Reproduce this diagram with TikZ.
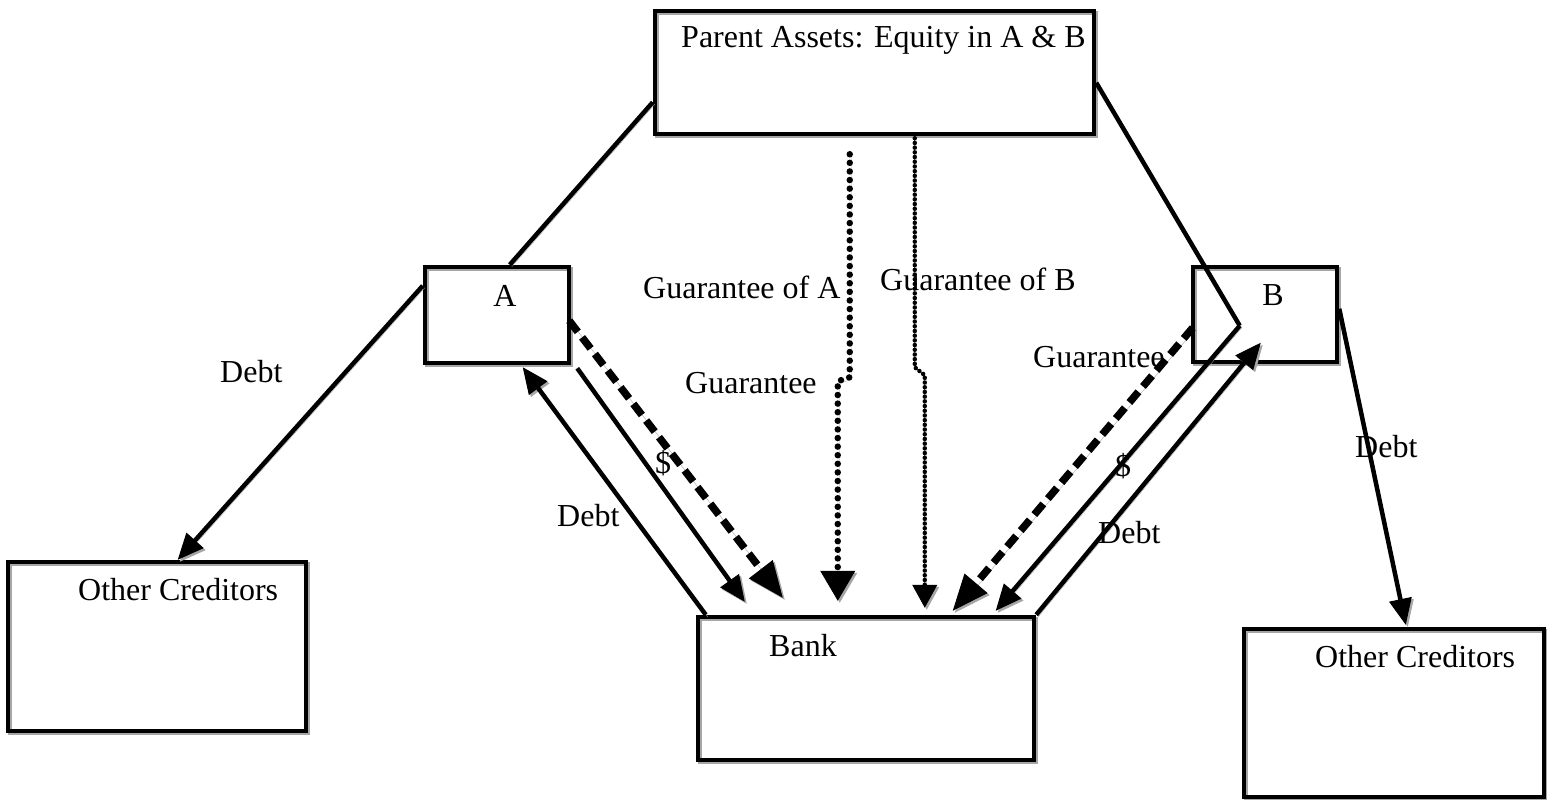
\documentclass[tikz,border=0pt]{standalone}
\usepackage{fontspec}
\setmainfont{Liberation Serif}
\usetikzlibrary{arrows.meta,calc}
\begin{document}
\begin{tikzpicture}[x=1pt,y=-1pt,
  shad/.style={preaction={draw=black!35, transform canvas={shift={(2pt,-2pt)}}}},
  box/.style={draw, line width=4.5pt, rectangle, inner sep=0pt, shad},
  txt/.style={font=\fontsize{32}{38}\selectfont, inner sep=0pt, anchor=base west},
  conn/.style={line width=4.5pt, shad},
  arr/.style={conn, -{Triangle[length=26pt,width=23pt,line width=1pt]}},
  garr/.style={line width=7.5pt, dash pattern=on 14pt off 7pt, shad, -{Triangle[length=36pt,width=30pt,line width=1pt]}},
  dotA/.style={line width=6.5pt, line cap=round, dash pattern=on 0pt off 8.6pt, shad, -{Triangle[length=30pt,width=35pt,line width=1pt]}},
  dotB/.style={line width=4.5pt, line cap=round, dash pattern=on 0pt off 4.7pt, shad, -{Triangle[length=23pt,width=25pt,line width=1pt]}}
]
\useasboundingbox (0,0) rectangle (1547,800);

% boxes
\node[box, minimum width=439pt, minimum height=123pt] (P) at (874.5,72.5) {};
\node[box, minimum width=144pt, minimum height=96pt] (A) at (497,315) {};
\node[box, minimum width=144pt, minimum height=95pt] (B) at (1265,314.5) {};
\node[box, minimum width=298pt, minimum height=169pt] (OCL) at (157,646.5) {};
\node[box, minimum width=336pt, minimum height=143pt] (Bank) at (866,688.5) {};
\node[box, minimum width=300pt, minimum height=168pt] (OCR) at (1394,713) {};

% box texts
\node[txt] (tP) at (681,48) {Parent Assets: Equity in A \& B};
\node[txt, anchor=base] (tA) at (505,306) {A};
\node[txt, anchor=base] (tB) at (1273,305) {B};
\node[txt] (tOCL) at (78,600) {Other Creditors};
\node[txt] (tOCR) at (1315,667) {Other Creditors};
\node[txt] (tBank) at (769,656) {Bank};

% equity lines
\draw[conn] ($(P.south west)+(0,-34)$) -- ($(A.north west)+(87,0)$);
\draw[conn] ($(P.north east)+(0,74)$) -- ($(B.north west)+(49,61)$);

% A side
\draw[arr] ($(A.north west)+(0,21)$) -- ($(OCL.north west)+(172,0)$);
\draw[arr] ($(Bank.north west)+(10,0)$) -- ($(A.south west)+(100,2)$);
\draw[arr] ($(A.south east)+(6,3)$) -- ($(Bank.north west)+(49,-13)$);
\draw[garr] ($(A.north east)+(-2,56)$) -- ($(Bank.north west)+(87,-17)$);

% guarantees from parent
\draw[dotA] ($(P.south west)+(197,18)$) -- ++(0,223) -- ++(-12,4) -- ($(Bank.north west)+(142,-14)$);
\draw[dotB] ($(P.south west)+(262,2)$) -- ++(0,229) -- ++(10,8) -- ($(Bank.north west)+(229,-7)$);

% B side
\draw[garr] ($(B.north west)+(2,63)$) -- ($(Bank.north west)+(257,-4)$);
\draw[arr] ($(B.north west)+(49,61)$) -- ($(Bank.north west)+(300,-4)$);
\draw[arr] (Bank.north east) -- ($(B.north west)+(70,78)$);
\draw[arr] ($(B.north east)+(0,44)$) -- ($(OCR.north west)+(164,-2)$);

% labels
\node[txt] (lDebt1) at (220,382) {Debt};
\node[txt] (lDebt2) at (557,526) {Debt};
\node[txt, anchor=base] (lDol1) at (663,473) {\$};
\node[txt] (lGA) at (643,298) {Guarantee of A};
\node[txt] (lGB) at (880,290) {Guarantee of B};
\node[txt] (lG1) at (685,393) {Guarantee};
\node[txt] (lG2) at (1033,367) {Guarantee};
\node[txt, anchor=base] (lDol2) at (1123,476) {\$};
\node[txt] (lDebt3) at (1098,543) {Debt};
\node[txt] (lDebt4) at (1355,457) {Debt};
\end{tikzpicture}
\end{document}
